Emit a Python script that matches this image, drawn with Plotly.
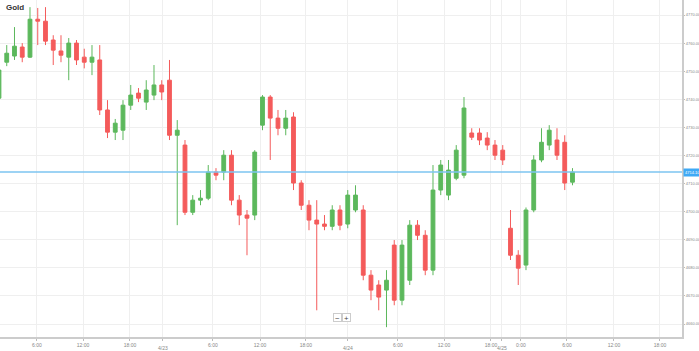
import plotly.graph_objects as go

# Hourly candles (index-based x)
opens = [4740.4,4753.2,4755.4,4758.6,4755.0,4768.5,4767.8,4761.1,4757.2,4755.0,
         4760.0,4755.0,4753.2,4754.0,4736.2,4728.3,4729.0,4737.9,4742.2,4739.0,
         4741.5,4745.1,4746.8,4727.2,4723.7,4699.8,4704.1,4704.8,4714.1,4714.1,
         4720.1,4704.1,4698.8,4698.8,4730.8,4740.8,4733.3,4729.7,4733.7,4710.2,
         4702.3,4697.0,4695.6,4694.8,4700.6,4695.6,4700.6,4700.6,4677.4,4673.9,
         4672.1,4688.1,4668.5,4675.6,4695.2,4691.6,4679.2,4707.7,4705.9,4711.9,
         4713.0,4728.0,4728.0,4726.2,4723.7,4721.9,4694.1,4684.5,4681.0,4700.6,
         4718.4,4723.7,4725.5,4724.7,4710.5]
highs = [4753.2,4759.3,4765.7,4760.0,4772.8,4772.5,4772.8,4762.8,4762.8,4761.8,
         4761.1,4758.0,4759.3,4759.3,4739.7,4733.0,4739.7,4745.1,4744.0,4746.8,
         4752.2,4746.8,4754.0,4732.6,4725.5,4705.9,4707.7,4716.6,4715.5,4721.9,
         4721.9,4705.9,4700.6,4721.9,4741.5,4741.5,4736.2,4736.2,4735.4,4711.2,
         4704.1,4704.1,4698.8,4702.3,4702.3,4707.7,4709.4,4702.3,4679.2,4675.6,
         4679.2,4689.9,4689.9,4697.0,4697.0,4693.4,4716.6,4718.4,4718.4,4723.7,
         4740.8,4729.7,4729.7,4728.3,4725.5,4723.7,4700.6,4686.3,4701.5,4720.1,
         4729.7,4730.8,4729.7,4727.2,4715.5]
lows = [4739.7,4751.8,4754.0,4753.2,4754.7,4759.3,4759.3,4752.2,4753.2,4746.8,
        4752.2,4751.0,4748.6,4734.4,4726.2,4725.5,4725.5,4736.2,4739.0,4736.2,
        4739.7,4739.7,4725.5,4695.2,4698.8,4698.8,4702.3,4704.1,4711.2,4711.2,
        4702.3,4695.2,4684.5,4697.0,4729.0,4718.4,4727.2,4727.2,4707.7,4700.6,
        4693.4,4664.9,4693.4,4693.4,4693.4,4694.1,4699.8,4675.6,4668.5,4664.9,
        4658.9,4666.7,4666.7,4673.9,4689.9,4677.4,4677.4,4705.9,4704.1,4711.2,
        4711.9,4725.5,4723.7,4721.9,4718.4,4716.6,4682.8,4673.9,4679.2,4699.8,
        4717.6,4721.9,4718.4,4707.7,4709.4]
closes = [4750.4,4756.4,4758.9,4755.0,4768.5,4767.8,4760.7,4757.5,4755.7,4760.0,
          4754.0,4753.2,4755.0,4736.2,4728.3,4731.5,4737.9,4741.5,4740.4,4743.3,
          4745.1,4742.6,4727.2,4729.0,4699.8,4704.1,4704.8,4714.1,4713.0,4720.1,
          4704.1,4698.8,4697.7,4721.2,4740.8,4733.3,4729.7,4733.3,4710.2,4702.3,
          4697.0,4695.6,4694.8,4700.6,4695.2,4705.9,4705.9,4677.4,4672.1,4669.6,
          4675.6,4668.5,4688.1,4695.2,4691.6,4679.2,4707.7,4716.6,4714.8,4721.9,
          4736.9,4726.5,4725.5,4723.7,4720.1,4718.4,4684.5,4679.9,4700.6,4718.4,
          4724.7,4729.0,4720.1,4710.2,4714.1]
candle_idx = list(range(len(opens)))

last_price = 4714.10

# x-axis ticks (candle-index units)
x_tick_pos = [4.9, 10.84, 16.9, 21.16, 27.6, 33.68, 39.6, 45.03, 51.48, 57.42, 63.48, 64.9, 67.35, 73.29, 79.35, 85.29]
x_tick_txt = ["6:00", "12:00", "18:00", "", "6:00", "12:00", "18:00", "",
              "6:00", "12:00", "18:00", "", "0:00", "6:00", "12:00", "18:00"]
date_pos = [21.16, 45.03, 64.9]
date_txt = ["4/23", "4/24", "4/25"]
y_ticks = [4770, 4760, 4750, 4740, 4730, 4720, 4710, 4700, 4690, 4680, 4670, 4660]

GREEN = "#5cb85c"
RED = "#f45b5b"

fig = go.Figure()
fig.add_trace(go.Candlestick(
    x=candle_idx, open=opens, high=highs, low=lows, close=closes,
    increasing=dict(line=dict(color=GREEN, width=1), fillcolor=GREEN),
    decreasing=dict(line=dict(color=RED, width=1), fillcolor=RED),
    whiskerwidth=0, showlegend=False, hoverinfo="skip",
))

fig.add_shape(type="line", xref="paper", x0=0, x1=1, yref="y", y0=last_price, y1=last_price,
              line=dict(color="#7cc4f0", width=1.5), layer="above")
fig.add_annotation(xref="paper", x=1.0, xanchor="left", yref="y", y=last_price,
                   text=f"{last_price:.2f}", showarrow=False,
                   font=dict(size=4, color="white", family="Arial"),
                   bgcolor="#3fa9f5", borderpad=1, xshift=1)

for dp, dt in zip(date_pos, date_txt):
    fig.add_annotation(xref="x", x=dp, yref="paper", y=0, yanchor="top", yshift=-6,
                       text=dt, showarrow=False, font=dict(size=5, color="#888", family="Arial"))

fig.add_annotation(xref="paper", yref="paper", x=0.006, y=0.996, xanchor="left", yanchor="top",
                   text="<b>Gold</b>", showarrow=False, font=dict(size=8, color="#333", family="Arial"))

for txt, xs in (("−", -4), ("+", 5)):
    fig.add_annotation(xref="paper", yref="paper", x=0.5, y=0.045, xshift=xs,
                       text=txt, showarrow=False, font=dict(size=8, color="#444"),
                       bgcolor="white", bordercolor="#ccc", borderwidth=1, borderpad=0, width=7, height=7)

fig.update_layout(
    width=699, height=351, margin=dict(l=0, r=17, t=0, b=14, autoexpand=False),
    paper_bgcolor="white", plot_bgcolor="white",
    xaxis=dict(range=[0.13, 88.13], rangeslider=dict(visible=False), tickmode="array",
               tickvals=x_tick_pos, ticktext=x_tick_txt, tickangle=0, automargin=False,
               showgrid=True, gridcolor="#efefef",
               gridwidth=1, showline=True, linecolor="#cccccc", linewidth=2, ticks="outside",
               ticklen=2, tickcolor="#bbb", tickfont=dict(size=5, color="#888", family="Arial"),
               zeroline=False, fixedrange=True),
    yaxis=dict(side="right", range=[4655.4, 4775.34], tickmode="array", tickvals=y_ticks,
               ticktext=[f"{v:.2f}" for v in y_ticks], automargin=False,
               showgrid=True, gridcolor="#efefef",
               showline=True, linecolor="#cccccc", linewidth=2, ticks="outside", ticklen=1,
               tickcolor="#bbb", tickfont=dict(size=4, color="#888", family="Arial"),
               zeroline=False, fixedrange=True),
)

fig.write_html("out.html")
